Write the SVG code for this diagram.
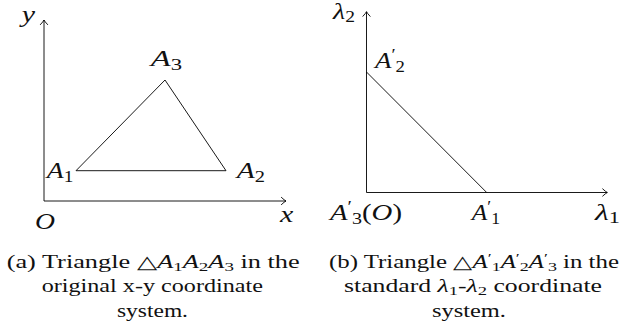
<svg xmlns="http://www.w3.org/2000/svg" width="624" height="333" viewBox="0 0 624 333">
<defs>
<marker id="to" viewBox="-6 -5 8 10" markerWidth="8" markerHeight="10" refX="0" refY="0" orient="auto" markerUnits="userSpaceOnUse">
<path d="M-4.6,-3.6 Q-1.4,-0.6 0,0 Q-1.4,0.6 -4.6,3.6" fill="none" stroke="#000" stroke-width="0.9" stroke-linecap="round"/>
</marker>
<style>
.ax{stroke:#000;stroke-width:0.9;fill:none;marker-end:url(#to)}
.ln{stroke:#000;stroke-width:0.9;fill:none;stroke-linejoin:round}
.m{font-family:"Liberation Serif",serif;font-style:italic;font-size:23px;fill:#111}
.r{font-style:normal}
.sb{font-style:normal;font-size:16px}
.cap{font-family:"Liberation Serif",serif;font-size:18px;fill:#111}
.ci{font-style:italic}
.cs{font-size:13px}
</style>
</defs>

<g id="panel-a">
<g id="axes-a">
<line class="ax" x1="44" y1="201" x2="44" y2="20"/>
<line class="ax" x1="44" y1="201" x2="286" y2="201"/>
</g>
<g id="triangle-a">
<polygon class="ln" points="76,170.7 226,170.7 165,80"/>
</g>
<g id="labels-a">
<text id="lbl-y" class="m" x="21.7" y="21.5" textLength="13.3" lengthAdjust="spacingAndGlyphs">y</text>
<text id="lbl-A3" class="m" x="150.7" y="65.7" textLength="31.3" lengthAdjust="spacingAndGlyphs">A<tspan class="sb" dy="4">3</tspan></text>
<text id="lbl-A1" class="m" x="46.7" y="178.3" textLength="26.6" lengthAdjust="spacingAndGlyphs">A<tspan class="sb" dy="4">1</tspan></text>
<text id="lbl-A2" class="m" x="236.7" y="178.3" textLength="28.3" lengthAdjust="spacingAndGlyphs">A<tspan class="sb" dy="4">2</tspan></text>
<text id="lbl-O" class="m" x="35" y="228.5" textLength="20" lengthAdjust="spacingAndGlyphs">O</text>
<text id="lbl-x" class="m" x="280" y="221.7" textLength="13.3" lengthAdjust="spacingAndGlyphs">x</text>
</g>
<g id="caption-a">
<text class="cap" x="6.7" y="267.5" textLength="293" lengthAdjust="spacingAndGlyphs">(a) Triangle △<tspan class="ci">A</tspan><tspan class="cs" dy="3">1</tspan><tspan class="ci" dy="-3">A</tspan><tspan class="cs" dy="3">2</tspan><tspan class="ci" dy="-3">A</tspan><tspan class="cs" dy="3">3</tspan><tspan dy="-3"> in the</tspan></text>
<text class="cap" x="41.7" y="292" textLength="221.3" lengthAdjust="spacingAndGlyphs">original x-y coordinate</text>
<text class="cap" x="117" y="316.5" textLength="71" lengthAdjust="spacingAndGlyphs">system.</text>
</g>
</g>

<g id="panel-b">
<g id="axes-b">
<line class="ax" x1="366.5" y1="192.5" x2="366.5" y2="11.7"/>
<line class="ax" x1="366.5" y1="192.5" x2="607.3" y2="192.5"/>
</g>
<g id="triangle-b">
<line class="ln" x1="366.5" y1="72" x2="486.7" y2="192.5"/>
</g>
<g id="labels-b">
<text id="lbl-l2" class="m" x="333" y="19" font-size="20" textLength="22" lengthAdjust="spacingAndGlyphs">λ<tspan class="sb" dy="3">2</tspan></text>
<text id="lbl-A2p" class="m" x="375" y="68.3" textLength="30" lengthAdjust="spacingAndGlyphs">A<tspan class="sb" dy="-8">′</tspan><tspan class="sb" dy="12">2</tspan></text>
<text id="lbl-A3pO" class="m" x="330" y="219.5" textLength="72" lengthAdjust="spacingAndGlyphs">A<tspan class="sb" dy="-8">′</tspan><tspan class="sb" dy="12">3</tspan><tspan class="r" dy="-4">(</tspan>O<tspan class="r">)</tspan></text>
<text id="lbl-A1p" class="m" x="471.7" y="219.5" textLength="28.3" lengthAdjust="spacingAndGlyphs">A<tspan class="sb" dy="-8">′</tspan><tspan class="sb" dy="12">1</tspan></text>
<text id="lbl-l1" class="m" x="595" y="219.5" textLength="25" lengthAdjust="spacingAndGlyphs">λ<tspan class="sb" dy="3.4">1</tspan></text>
</g>
<g id="caption-b">
<text class="cap" x="329" y="267.5" textLength="290" lengthAdjust="spacingAndGlyphs">(b) Triangle △<tspan class="ci">A</tspan><tspan class="cs" dy="-6">′</tspan><tspan class="cs" dy="9">1</tspan><tspan class="ci" dy="-3">A</tspan><tspan class="cs" dy="-6">′</tspan><tspan class="cs" dy="9">2</tspan><tspan class="ci" dy="-3">A</tspan><tspan class="cs" dy="-6">′</tspan><tspan class="cs" dy="9">3</tspan><tspan dy="-3"> in the</tspan></text>
<text class="cap" x="344" y="292" textLength="258" lengthAdjust="spacingAndGlyphs">standard <tspan class="ci">λ</tspan><tspan class="cs" dy="3">1</tspan><tspan dy="-3">-</tspan><tspan class="ci">λ</tspan><tspan class="cs" dy="3">2</tspan><tspan dy="-3"> coordinate</tspan></text>
<text class="cap" x="432" y="316.5" textLength="74" lengthAdjust="spacingAndGlyphs">system.</text>
</g>
</g>
</svg>
